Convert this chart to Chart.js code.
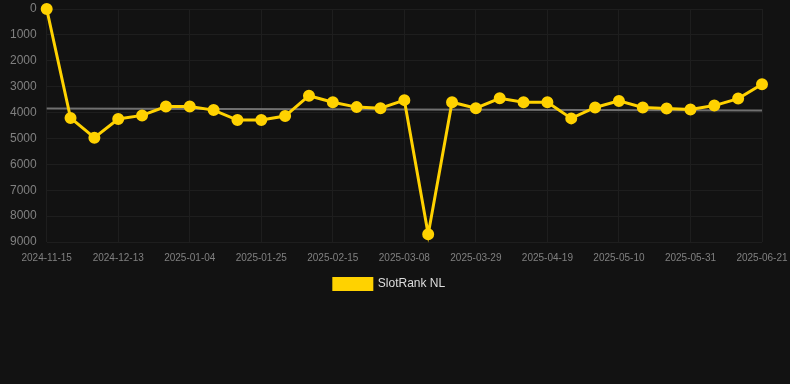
<!DOCTYPE html>
<html>
<head>
<meta charset="utf-8">
<title>SlotRank NL</title>
<script src="https://cdn.jsdelivr.net/npm/chart.js@4.4.1/dist/chart.umd.min.js"></script>
<style>
  html, body { margin: 0; padding: 0; background: #121212; }
  #wrap { position: relative; width: 790px; height: 300px; }
</style>
</head>
<body>
<div id="wrap"><canvas id="rankChart"></canvas></div>
<script>
// data
const dates = [
  "2024-11-15", "2024-11-24", "2024-12-04", "2024-12-13", "2024-12-20", "2024-12-27",
  "2025-01-04", "2025-01-11", "2025-01-18", "2025-01-25", "2025-02-01", "2025-02-08",
  "2025-02-15", "2025-02-22", "2025-03-01", "2025-03-08", "2025-03-15", "2025-03-22",
  "2025-03-29", "2025-04-05", "2025-04-12", "2025-04-19", "2025-04-26", "2025-05-03",
  "2025-05-10", "2025-05-17", "2025-05-24", "2025-05-31", "2025-06-07", "2025-06-14",
  "2025-06-21"
];
const rankNL = [
  1, 4210, 4970, 4250, 4110, 3770, 3770, 3905, 4290, 4290, 4135,
  3350, 3600, 3790, 3830, 3520, 8700, 3600, 3830, 3450, 3600,
  3600, 4225, 3805, 3550, 3805, 3840, 3880, 3730, 3460, 2910
];
// trend line: only its two ends are known
const trendStart = 3840;
const trendEnd = 3920;
const yTicks = [0, 1000, 2000, 3000, 4000, 5000, 6000, 7000, 8000, 9000];

const trend = dates.map(() => null);
trend[0] = trendStart;
trend[trend.length - 1] = trendEnd;

const ctx = document.getElementById('rankChart').getContext('2d');
const rankChart = new Chart(ctx, {
  type: 'line',
  data: {
    labels: dates,
    datasets: [{
      label: 'SlotRank NL',
      data: rankNL,
      borderColor: '#ffd200',
      backgroundColor: '#ffd200',
      borderWidth: 3,
      pointRadius: 4.5,
      pointHoverRadius: 6,
      tension: 0,
      clip: false,
      order: 1
    }, {
      label: 'trend',
      data: trend,
      borderColor: '#707070',
      borderWidth: 2,
      pointRadius: 0,
      spanGaps: true,
      order: 2
    }]
  },
  options: {
    responsive: true,
    maintainAspectRatio: false,
    animation: false,
    layout: { padding: { top: 0, right: 11, left: 0, bottom: 0 } },
    scales: {
      x: {
        grid: {
          color: c => (c.index % 3 === 0 ? '#1e1e1e' : 'transparent'),
          drawTicks: false
        },
        border: { display: false },
        ticks: {
          color: '#808080',
          font: { family: 'Arial, Liberation Sans', size: 10 },
          padding: 10,
          autoSkip: false,
          maxRotation: 0,
          callback: function (val, i) { return i % 3 === 0 ? this.getLabelForValue(val) : ''; }
        },
        afterFit: axis => { axis.paddingRight = 28; axis.height -= 3; }
      },
      y: {
        reverse: true,
        min: yTicks[0],
        max: yTicks[yTicks.length - 1],
        afterBuildTicks: axis => { axis.ticks = yTicks.map(v => ({ value: v })); },
        grid: { color: '#1e1e1e', drawTicks: false },
        border: { display: false },
        ticks: {
          color: '#808080',
          font: { family: 'Arial, Liberation Sans', size: 12 },
          padding: 10,
          callback: v => String(v)
        },
        afterFit: axis => { axis.paddingTop = 6; axis.paddingBottom = 0; }
      }
    },
    plugins: {
      tooltip: { enabled: false },
      legend: {
        position: 'bottom',
        labels: {
          color: '#dddddd',
          font: { family: 'Arial, Liberation Sans', size: 12 },
          boxWidth: 38,
          boxHeight: 11,
          padding: 7,
          filter: item => item.text !== 'trend'
        }
      }
    }
  }
});
</script>
</body>
</html>
